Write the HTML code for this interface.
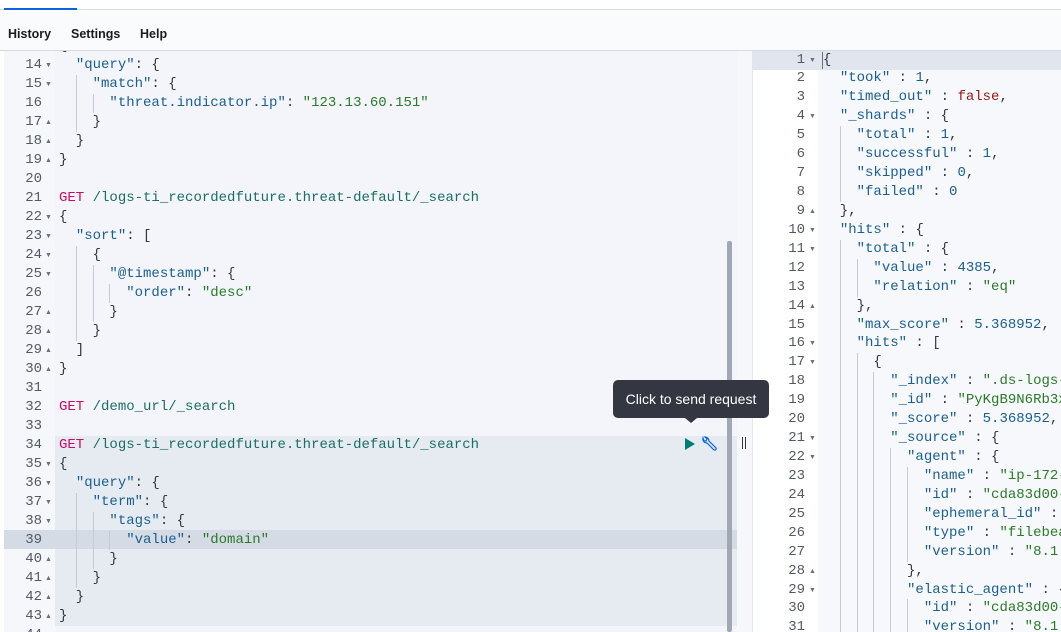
<!DOCTYPE html>
<html><head><meta charset="utf-8"><style>
*{margin:0;padding:0;box-sizing:border-box}
html,body{width:1061px;height:632px;overflow:hidden}
body{background:#fff;font-family:"Liberation Sans",sans-serif;position:relative}
.a{position:absolute}
.ln{position:absolute;font-family:"Liberation Mono",monospace;font-size:14px;line-height:19px;height:19px;white-space:pre;color:#343741}
.num{position:absolute;font-family:"Liberation Mono",monospace;font-size:14px;line-height:19px;color:#535966;text-align:right}
.fold{position:absolute;font-size:7px;color:#69707d;line-height:19px}
.k{color:#1a5f8f}.s{color:#2a7a2a}.m{color:#c80a68}.p{color:#1b6e64}.f{color:#9b1515}.n{color:#1a5f8f}
.g{position:absolute;width:1px;background:#c5cad3;height:19px}
</style></head><body>
<div class="a" style="left:0;top:0;width:1061px;height:10px;background:#fff;border-bottom:1px solid #d3dae6"></div>
<div class="a" style="left:4px;top:8px;width:73px;height:2px;background:#0b64dd"></div>
<div class="a" style="left:0;top:11px;width:1061px;height:40px;background:#fafbfd;border-bottom:1px solid #d3dae6"></div>
<div class="a" style="left:8px;top:27px;font-size:12.5px;font-weight:bold;color:#1a1c21">History</div>
<div class="a" style="left:71px;top:27px;font-size:12.5px;font-weight:bold;color:#1a1c21">Settings</div>
<div class="a" style="left:140px;top:27px;font-size:12.5px;font-weight:bold;color:#1a1c21">Help</div>
<div class="a" style="left:0;top:51px;width:1061px;height:581px;overflow:hidden">
<div class="a" style="left:4px;top:0;width:51px;height:581px;background:#f5f7fa"></div>
<div class="a" style="left:55px;top:0;width:682px;height:581px;background:#f3f5fa"></div>
<div class="a" style="left:55px;top:385px;width:682px;height:190px;background:#e6ebf2"></div>
<div class="a" style="left:4px;top:479px;width:733px;height:19px;background:#d5dbe5"></div>
<div class="a" style="left:727px;top:190px;width:5px;height:391px;background:#a1a8b4;border-radius:2px"></div>
<div class="a" style="left:737px;top:0;width:15px;height:581px;background:#f5f7fa"></div>
<div class="a" style="left:742px;top:386px;width:1px;height:12px;background:#343741"></div>
<div class="a" style="left:745px;top:386px;width:1px;height:12px;background:#343741"></div>
<div class="a" style="left:752px;top:0;width:66px;height:581px;background:#fff;border-left:1px solid #e3e8f0"></div>
<div class="a" style="left:818px;top:0;width:243px;height:581px;background:#f7f8fb"></div>
<div class="a" style="left:752px;top:0;width:309px;height:19px;background:#e1e6ee"></div>
<div class="a" style="left:822px;top:1px;width:1px;height:17px;background:#69707d"></div>
<div id="ed"></div>
</div>
<div class="a" style="left:613px;top:380px;width:156px;height:38px;background:#343741;border-radius:5px;color:#fff;font-size:14px;line-height:38px;text-align:center">Click to send request</div>
<div class="a" style="left:685px;top:418px;width:0;height:0;border-left:6px solid transparent;border-right:6px solid transparent;border-top:5px solid #343741"></div>
<div class="a" style="left:685px;top:438px;width:0;height:0;border-top:6px solid transparent;border-bottom:6px solid transparent;border-left:10px solid #017d73"></div>
<svg class="a" style="left:700px;top:436px" width="18" height="16" viewBox="0 0 18 16"><path d="M3 2 a4 4 0 0 0 4 5 l7 7 a1.5 1.5 0 0 0 2-2 l-7-7 a4 4 0 0 0-4-4 l2 2 -1 2 -2 0z" fill="none" stroke="#0b64dd" stroke-width="1.2"/></svg>
<script>
function esc(t){return t.replace(/&/g,'&amp;').replace(/</g,'&lt;')}
function hl(t){
 return esc(t).replace(/("[^"]*")(\s*:)|("[^"]*")|\b(false)\b|(\b\d[\d.]*\b)/g,function(m,k,c,s,f,n){
  if(k)return '<span class="k">'+k+'</span>'+c;
  if(s)return '<span class="s">'+s+'</span>';
  if(f)return '<span class="f">'+f+'</span>';
  return '<span class="n">'+n+'</span>';});
}
var out='';
function render(lines,x0,numR,foldX,top,lh){
 lines.forEach(function(l,i){
  var y=top+i*lh, n=l[0], fd=l[1], t=l[2];
  out+='<div class="num" style="left:'+(numR-40)+'px;width:40px;top:'+y+'px">'+n+'</div>';
  if(fd)out+='<div class="fold" style="left:'+foldX+'px;top:'+y+'px">'+(fd=='d'?'▼':'▲')+'</div>';
  var ind=t.match(/^ */)[0].length;
  for(var c=2;c<ind;c+=2)out+='<div class="g" style="left:'+(x0+c*8.4)+'px;top:'+y+'px"></div>';
  var h;
  if(/^GET /.test(t)){h='<span class="m">GET</span> <span class="p">'+esc(t.slice(4))+'</span>';}
  else h=hl(t);
  out+='<div class="ln" style="left:'+x0+'px;top:'+y+'px">'+h+'</div>';
 });
}
var L=[[13,'',"{"],[14,'d','  "query": {'],[15,'d','    "match": {'],[16,'','      "threat.indicator.ip": "123.13.60.151"'],[17,'u','    }'],[18,'u','  }'],[19,'u','}'],[20,'',''],[21,'','GET /logs-ti_recordedfuture.threat-default/_search'],[22,'d','{'],[23,'d','  "sort": ['],[24,'d','    {'],[25,'d','      "@timestamp": {'],[26,'','        "order": "desc"'],[27,'u','      }'],[28,'u','    }'],[29,'u','  ]'],[30,'u','}'],[31,'',''],[32,'','GET /demo_url/_search'],[33,'',''],[34,'','GET /logs-ti_recordedfuture.threat-default/_search'],[35,'d','{'],[36,'d','  "query": {'],[37,'d','    "term": {'],[38,'d','      "tags": {'],[39,'','        "value": "domain"'],[40,'u','      }'],[41,'u','    }'],[42,'u','  }'],[43,'u','}'],[44,'','']];
render(L,59,42,45,-14.5,19);
var R=[[1,'d','{'],[2,'','  "took" : 1,'],[3,'','  "timed_out" : false,'],[4,'d','  "_shards" : {'],[5,'','    "total" : 1,'],[6,'','    "successful" : 1,'],[7,'','    "skipped" : 0,'],[8,'','    "failed" : 0'],[9,'u','  },'],[10,'d','  "hits" : {'],[11,'d','    "total" : {'],[12,'','      "value" : 4385,'],[13,'','      "relation" : "eq"'],[14,'u','    },'],[15,'','    "max_score" : 5.368952,'],[16,'d','    "hits" : ['],[17,'d','      {'],[18,'','        "_index" : ".ds-logs-ti_recordedfuture.threat"'],[19,'','        "_id" : "PyKgB9N6Rb3xAbCd"'],[20,'','        "_score" : 5.368952,'],[21,'d','        "_source" : {'],[22,'d','          "agent" : {'],[23,'','            "name" : "ip-172-31-0-1"'],[24,'','            "id" : "cda83d00-1234"'],[25,'','            "ephemeral_id" : "x"'],[26,'','            "type" : "filebeat"'],[27,'','            "version" : "8.1.0"'],[28,'u','          },'],[29,'d','          "elastic_agent" : {'],[30,'','            "id" : "cda83d00-1234"'],[31,'','            "version" : "8.1.0"']];
render(R,823,805,809,-0.5,18.93);
document.getElementById('ed').innerHTML=out;
</script>
</body></html>
